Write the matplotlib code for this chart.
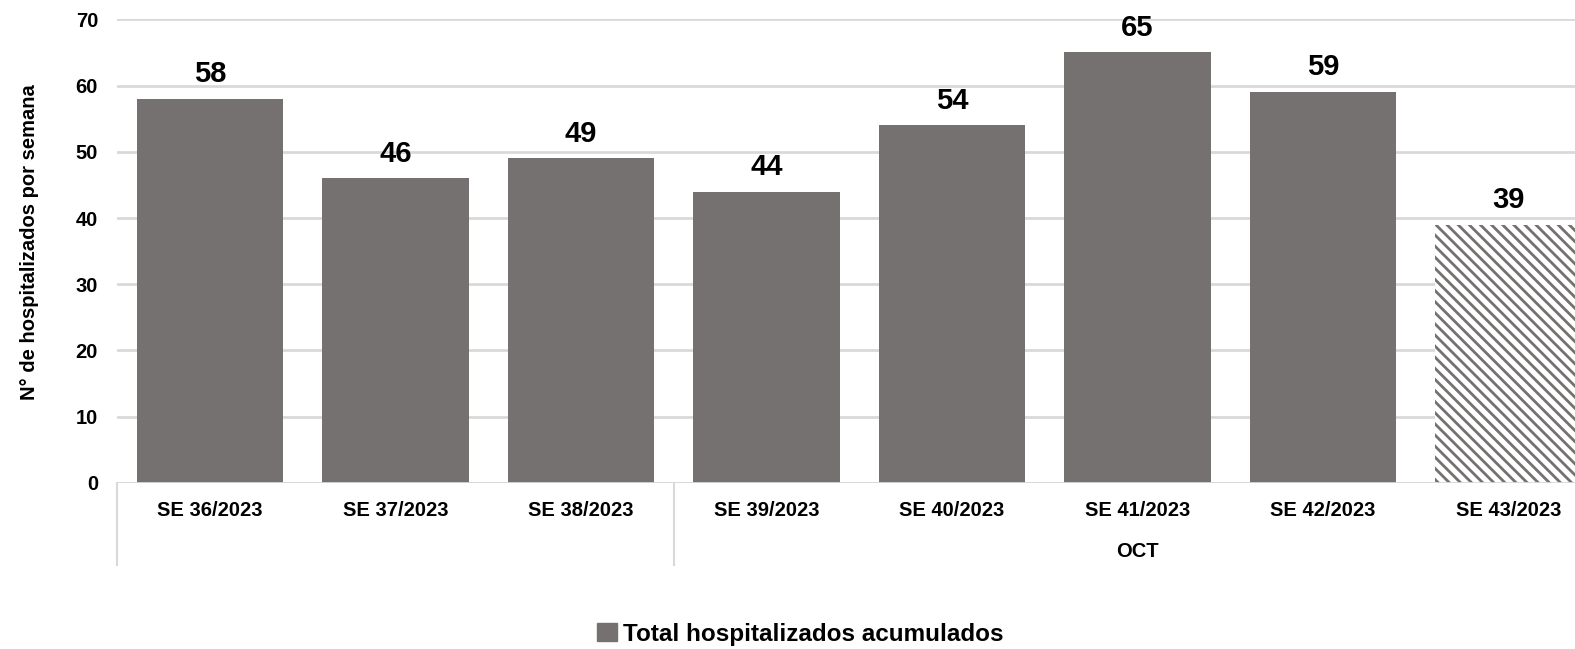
import matplotlib
matplotlib.use('Agg')
import matplotlib.pyplot as plt
import matplotlib.transforms as mtransforms
from matplotlib.patches import Patch

plt.rcParams['font.family'] = ['Liberation Sans', 'DejaVu Sans']
plt.rcParams['font.weight'] = 'bold'
plt.rcParams['hatch.linewidth'] = 2.0

# data
weeks = ['SE 36/2023', 'SE 37/2023', 'SE 38/2023', 'SE 39/2023',
         'SE 40/2023', 'SE 41/2023', 'SE 42/2023', 'SE 43/2023']
hospitalized = [58, 46, 49, 44, 54, 65, 59, 39]
partial_week = [False, False, False, False, False, False, False, True]
month_groups = [('', 0, 2), ('OCT', 3, 7)]
series_name = 'Total hospitalizados acumulados'

bar_color = '#767171'
grid_color = '#d9d9d9'

fig = plt.figure(figsize=(15.75, 6.49), dpi=100)
ax = fig.add_axes([0.0746, 0.2558, 0.942, 0.7145])

x = list(range(len(weeks)))
for i, (v, p) in enumerate(zip(hospitalized, partial_week)):
    if p:
        # incomplete week: hatched bar
        ax.bar(i, v, width=0.79, facecolor='white', edgecolor=bar_color,
               hatch='\\\\\\', linewidth=0, zorder=2)
    else:
        ax.bar(i, v, width=0.79, color=bar_color, linewidth=0, zorder=2)
    ax.annotate(str(v), (i, v), xytext=(0, 12), textcoords='offset points',
                ha='center', va='baseline', fontsize=21, fontweight='bold',
                color='black')

ax.set_xlim(-0.5, len(weeks) - 0.5)
ax.set_ylim(0, 70)
ax.set_yticks(range(0, 71, 10))
ax.yaxis.grid(True, color=grid_color, linewidth=2, zorder=0)
ax.set_axisbelow(True)
ax.axhline(0, color=grid_color, linewidth=2, zorder=3)
for s in ax.spines.values():
    s.set_visible(False)

ax.set_xticks(x)
ax.set_xticklabels(weeks, fontsize=14.5, fontweight='bold')
ax.tick_params(axis='x', length=0, pad=13)
ax.tick_params(axis='y', length=0, pad=14, labelsize=14.5)

# category separators and month label
trans = mtransforms.blended_transform_factory(ax.transData, ax.transAxes)
for label, start, end in month_groups:
    ax.plot([start - 0.5, start - 0.5], [0, -0.177], transform=trans,
            color=grid_color, linewidth=1.5, clip_on=False)
    if label:
        ax.text((start + end) / 2, -0.147, label, transform=trans,
                ha='center', va='center', fontsize=14.5, fontweight='bold')

fig.text(30 / 1575, 1 - 242 / 649, 'N° de hospitalizados por semana',
         rotation=90, ha='center', va='center', fontsize=14.5,
         fontweight='bold')

fig.legend(handles=[Patch(color=bar_color, label=series_name)],
           loc='center', bbox_to_anchor=(0.508, 0.023), frameon=False,
           handlelength=0.8, handleheight=0.8,
           handletextpad=0.25, borderpad=0,
           prop={'weight': 'bold', 'size': 17.5})

fig.savefig('out.png', dpi=100)
